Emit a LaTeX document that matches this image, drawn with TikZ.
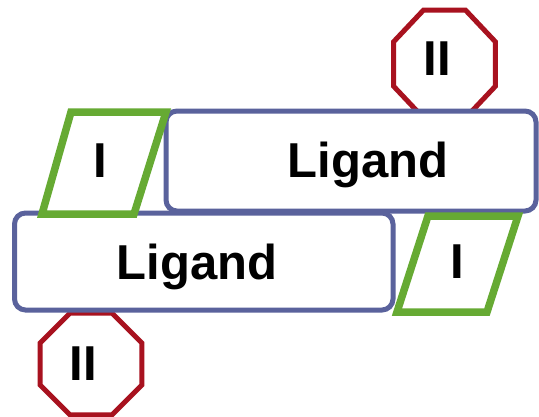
\documentclass[tikz,border=0pt]{standalone}
\usepackage{fontspec}
\setmainfont{Liberation Sans}
\usetikzlibrary{shapes.geometric}

\definecolor{ligandblue}{HTML}{5A629C}
\definecolor{sitegreen}{HTML}{66AA33}
\definecolor{sitered}{HTML}{A8121F}

\tikzset{
  octa/.style={regular polygon, regular polygon sides=8, minimum size=110pt,
    inner sep=0pt, draw=sitered, line width=5pt, fill=white},
  ligandbox/.style={draw=ligandblue, line width=5pt, fill=white,
    rounded corners=11pt},
  sitebox/.style={draw=sitegreen, line width=7.5pt, fill=white,
    line join=miter},
  lbl/.style={font=\bfseries\fontsize{49}{49}\selectfont, anchor=base,
    inner sep=0pt, text=black},
}

\begin{document}
\begin{tikzpicture}[x=1pt, y=-1pt]
  \useasboundingbox (0,0) rectangle (539,416);
  \fill[white] (0,0) rectangle (539,416);

  % site II octagons (behind the ligand bars)
  \node[octa, yscale=1.06, transform shape] (octTop) at (444.5,64) {};
  \node[octa] (octBot) at (91,364) {};

  % ligand bars
  \draw[ligandbox] (166,111) rectangle (536,211);
  \draw[ligandbox] (14.5,213) rectangle (393,310);

  % site I parallelograms
  \draw[sitebox] (71,112) -- (166,112) -- (134,214) -- (42,214) -- cycle;
  \draw[sitebox] (428,216) -- (518,216) -- (487,312) -- (397,312) -- cycle;

  % labels
  \node[lbl] (ligTop) at (368,177) {Ligand};
  \node[lbl] (ligBot) at (197,279) {Ligand};
  \node[lbl] (siteIa) at (100,177) {I};
  \node[lbl] (siteIb) at (457.5,278) {I};
  \node[lbl] (siteIIa) at (437.5,75) {II};
  \node[lbl] (siteIIb) at (83,380) {II};
\end{tikzpicture}
\end{document}
